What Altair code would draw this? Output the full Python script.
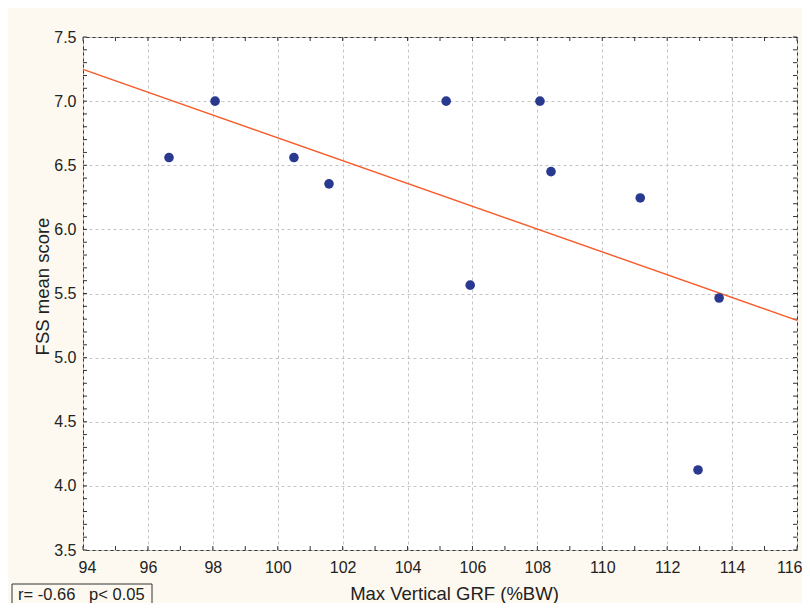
import altair as alt
import pandas as pd

# data
grf = [96.65, 98.07, 100.5, 101.58, 105.19, 105.93, 108.08, 108.42, 111.17, 112.95, 113.6]
fss = [6.56, 7.0, 6.56, 6.355, 7.0, 5.565, 7.0, 6.45, 6.245, 4.124, 5.465]

x_major = [94, 96, 98, 100, 102, 104, 106, 108, 110, 112, 114, 116]
y_major = [3.5, 4.0, 4.5, 5.0, 5.5, 6.0, 6.5, 7.0, 7.5]
x_minor = list(range(94, 117))
y_minor = [round(3.5 + 0.1 * i, 1) for i in range(41)]

W, H = 714, 513
FONT = "Liberation Sans"
TXT = "#222222"
BG = "#fdf9f0"

df = pd.DataFrame({"x": grf, "y": fss})
xt = pd.DataFrame({"x": x_minor})
yt = pd.DataFrame({"y": y_minor})

xaxis = alt.Axis(values=x_major, grid=True, ticks=False, domain=False, labelPadding=9,
                 labelFlush=True, labelFlushOffset=5, labelOverlap=False,
                 title="Max Vertical GRF (%BW)", titleX=371, titleY=49,
                 titleBaseline="alphabetic", titleAlign="center")
yaxis = alt.Axis(values=y_major, format=".1f", grid=True, ticks=False, domain=False, labelPadding=7,
                 labelFlush=False, labelOverlap=False,
                 title="FSS mean score", titleX=-35, titleY=249, titleAngle=270,
                 titleBaseline="alphabetic", titleAlign="center")


def X():
    return alt.X("x:Q", scale=alt.Scale(domain=[94, 116], nice=False, zero=False), axis=xaxis)


def Y():
    return alt.Y("y:Q", scale=alt.Scale(domain=[3.5, 7.5], nice=False, zero=False), axis=yaxis)


points = alt.Chart(df).mark_circle(size=92, color="#2a3990", opacity=1).encode(x=X(), y=Y())

line = alt.Chart(df).transform_regression("x", "y", extent=[94, 116]).mark_line(
    color="#f85a28", strokeWidth=1.4).encode(x=X(), y=Y())

TK = "#333333"
xb = alt.Chart(xt).mark_rule(color=TK, strokeWidth=1).encode(
    x=X(), y=alt.value(H), y2=alt.value(H - 4))
xtop = alt.Chart(xt).mark_rule(color=TK, strokeWidth=1).encode(
    x=X(), y=alt.value(0), y2=alt.value(4))
yl = alt.Chart(yt).mark_rule(color=TK, strokeWidth=1).encode(
    y=Y(), x=alt.value(0), x2=alt.value(4))
yr = alt.Chart(yt).mark_rule(color=TK, strokeWidth=1).encode(
    y=Y(), x=alt.value(W - 4), x2=alt.value(W))

box = alt.Chart(pd.DataFrame({"a": [0]})).mark_rect(
    fill=BG, stroke=TK, strokeWidth=1).encode(
    x=alt.value(-71), x2=alt.value(69), y=alt.value(547), y2=alt.value(570))

label = alt.Chart(pd.DataFrame({"t": ["r= -0.66\u00a0\u00a0\u00a0p<\u00a00.05"]})).mark_text(
    align="left", baseline="alphabetic", font=FONT, fontSize=16.5, color=TXT).encode(
    text="t:N", x=alt.value(-65), y=alt.value(563))

chart = alt.layer(xb, xtop, yl, yr, line, points, box, label).properties(
    width=W, height=H,
    autosize=alt.AutoSizeParams(type="none"),
    padding={"left": 75, "top": 29, "right": 5, "bottom": 53},
    background=BG,
).configure_view(
    fill="white", stroke="#333333", strokeWidth=1
).configure_axis(
    labelFont=FONT, labelFontSize=16, labelColor=TXT,
    titleFont=FONT, titleFontSize=18.5, titleFontWeight="normal", titleColor=TXT,
    gridColor="#c4c4c4", gridDash=[3, 3], gridWidth=1,
)

chart.save("out.html", embed_options={"renderer": "svg", "actions": False})
